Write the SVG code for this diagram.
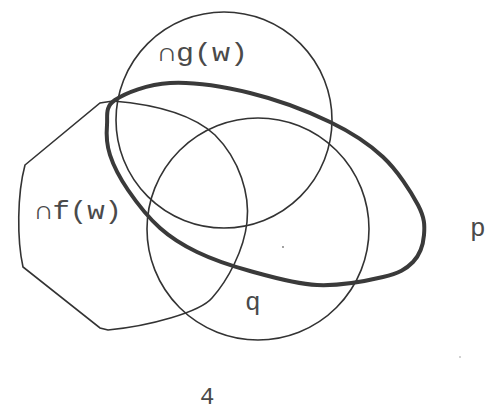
<svg xmlns="http://www.w3.org/2000/svg" width="487" height="414" viewBox="0 0 487 414">
<style>
.thin{fill:none;stroke:#333;stroke-width:1.6}
.thick{fill:none;stroke:#3a3a3a;stroke-width:4;stroke-linejoin:round}
.lbl{font-family:"Liberation Mono","DejaVu Sans Mono",monospace;font-size:26px;fill:#4a4a4a}
</style>
<rect width="487" height="414" fill="#fff"/>
<g id="f">
<path class="thin" d="M25,165 L100,103 L113,101 C150,104 190,112 215,135 C240,160 250,195 247,222 C244,250 228,280 212,298 C200,312 150,326 108,330 L100,328 L23,267 C17,240 17,195 25,165 Z"/>
<text class="lbl" x="35" y="219" textLength="87" lengthAdjust="spacingAndGlyphs">∩f(w)</text>
</g>
<g id="g">
<circle class="thin" cx="224" cy="120" r="108"/>
<text class="lbl" x="158" y="61" textLength="90" lengthAdjust="spacingAndGlyphs">∩g(w)</text>
</g>
<g id="q">
<circle class="thin" cx="258" cy="229" r="111"/>
<text class="lbl" x="245" y="310">q</text>
</g>
<g id="p">
<path class="thick" d="M115,100 C125.5,93 147.5,84.2 170,83 C192.5,81.8 223.3,86.5 250,93 C276.7,99.5 307.8,111.3 330,122 C352.2,132.7 368.3,143.2 383,157 C397.7,170.8 411.2,192 418,205 C424.8,218 424.8,225.5 424,235 C423.2,244.5 419.8,255 413,262 C406.2,269 399,273.2 383,277 C367,280.8 339.2,286 317,285 C294.8,284 270,276.5 250,271 C230,265.5 212,259.2 197,252 C182,244.8 171.5,238.3 160,228 C148.5,217.7 136.3,202.2 128,190 C119.7,177.8 113.5,165.8 110,155 C106.5,144.2 106.2,134.2 107,125 C107.8,115.8 104.5,107 115,100 Z"/>
<text class="lbl" x="470" y="236">p</text>
</g>
<g id="label4">
<text class="lbl" x="200" y="404" style="font-size:24px">4</text>
</g>
<g id="connectors"></g>
<circle cx="283" cy="247" r="0.9" fill="#777"/>
<circle cx="460" cy="357" r="0.8" fill="#999"/>
</svg>
